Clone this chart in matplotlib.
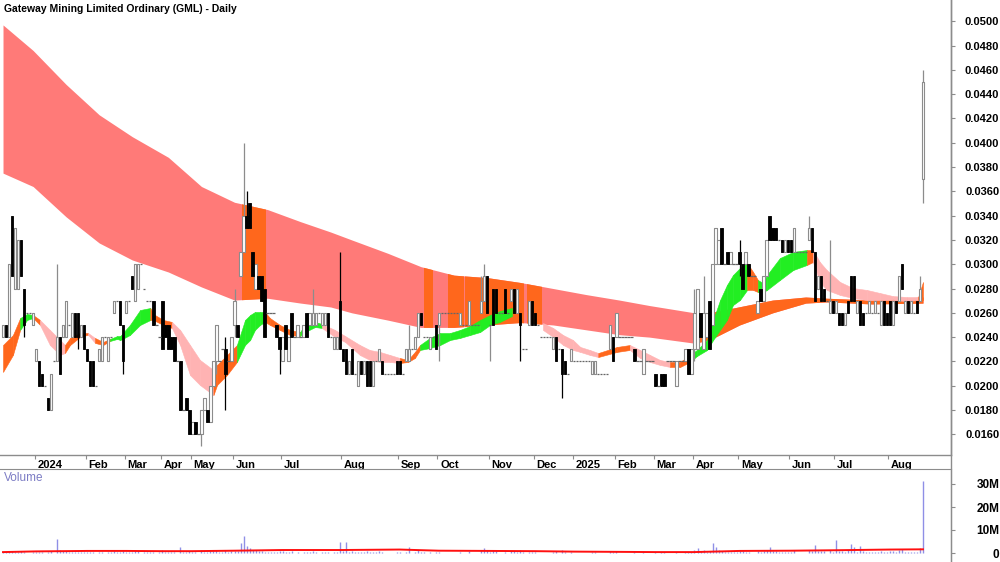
import numpy as np
import matplotlib
matplotlib.use("Agg")
import matplotlib.pyplot as plt
from matplotlib.collections import LineCollection, PolyCollection
from matplotlib.patches import Rectangle
from matplotlib.transforms import ScaledTranslation
from matplotlib import font_manager

plt.rcParams['font.family'] = ['Liberation Sans', 'DejaVu Sans']

TITLE = "Gateway Mining Limited Ordinary (GML) - Daily"

# ---- daily OHLC, in units of 0.001 (one row per trading bar), grouped by month ----
ohlc_dec23 = [(24,25,24,25),(25,25,24,24),(24,30,24,30),(34,34,29,29),(28,33,28,33),(28,32,28,32),
              (32,32,29,29),(28,28,24,25),(26,26,26,26),(26,26,26,26),(25,26,25,26)]
ohlc_jan24 = [(22,23,22,23),(22,22,20,20),(21,21,20,20),(20,20,20,20),(19,19,18,18),(18,21,18,21),
              (22,22,22,22),(22,30,22,24),(24,24,21,21),(24,25,24,25),(24,27,24,27),(25,25,25,25),
              (24,26,24,26),(26,26,24,24),(26,26,23,24),(24,25,24,25),(25,25,23,23)]
ohlc_feb24 = [(23,23,22,22),(22,22,20,20),(22,22,20,20),(20,20,20,20),(22,23,22,23),(22,24,22,24),
              (24,24,24,24),(22,24,22,24),(24,24,24,24),(26,27,26,27),(27,27,27,27),(27,27,25,25),
              (25,25,21,22)]
ohlc_mar24 = [(26,27,26,27),(27,27,27,27),(29,29,28,28),(27,30,27,30),(28,30,28,30),(30,30,30,30),
              (28,28,28,28),(27,27,27,27),(27,27,27,27),(27,27,25,25),(25,25,25,25),(24,24,24,24)]
ohlc_apr24 = [(27,27,23,23),(25,25,24,24),(25,25,23,23),(24,24,23,23),(24,24,22,22),(22,22,22,22),
              (22,22,18,18),(18,18,18,18),(19,19,18,18),(18,18,16,16)]
ohlc_may24 = [(16,17,16,17),(17,17,16,16),(16,16,16,16),(16,18,15,18),(18,19,18,19),(18,18,17,17),
              (17,20,17,20),(20,22,20,22),(22,25,21,25),(22,22,22,22),(23,23,23,23),(23,24,18,21),
              (22,22,22,22),(22,24,22,24)]
ohlc_jun24 = [(25,28,24,27),(25,25,24,24),(29,31,29,31),(31,40,31,34),(34,36,33,33),(35,35,33,33),
              (31,31,29,29),(28,30,28,30),(29,29,28,28),(29,29,27,27),(28,28,24,24),(26,26,26,26),
              (26,26,26,26),(26,26,26,26),(25,25,24,24),(24,24,21,23)]
ohlc_jul24 = [(22,24,22,24),(25,25,23,23),(22,24,22,24),(26,26,24,24),(24,24,24,24),(24,25,24,25),
              (24,24,24,24),(24,25,24,25),(26,26,24,24),(25,26,25,26),(25,28,25,26),(25,26,25,26),
              (26,26,26,26),(25,26,25,26),(25,26,25,26),(26,26,24,24),(24,24,24,24),(23,24,23,24),
              (23,24,23,24),(27,31,23,23)]
ohlc_aug24 = [(23,23,22,22),(23,23,21,21),(21,22,21,22),(23,23,21,21),(21,21,21,21),(20,22,20,22),
              (22,22,21,21),(21,22,21,22),(22,22,20,20),(22,22,20,20),(20,22,20,22),(22,22,22,22),
              (22,23,22,23),(22,22,21,21),(21,21,21,21),(21,21,21,21),(21,21,21,21),(21,21,21,21),
              (22,22,21,21)]
ohlc_sep24 = [(22,22,21,21),(21,21,21,21),(22,23,22,23),(22,25,22,23),(23,23,23,23),(23,24,23,24),
              (24,26,24,26),(26,26,25,25),(24,24,24,24),(24,24,24,24),(23,24,23,24),(24,24,24,24),
              (25,25,23,23)]
ohlc_oct24 = [(25,26,22,26),(26,26,26,26),(26,26,26,26),(26,26,26,26),(26,26,26,26),(26,26,26,26),
              (26,26,26,26),(25,26,25,26),(25,25,25,25),(25,25,25,25),(25,27,25,27),(25,25,25,25),
              (25,25,25,25),(25,25,25,25),(26,29,26,27),(27,30,27,29),(29,29,26,26)]
ohlc_nov24 = [(25,25,22,25),(28,28,25,25),(28,28,26,26),(26,26,26,26),(26,26,26,26),(28,28,26,26),
              (26,26,26,26),(27,28,27,28),(28,28,26,26),(26,28,26,28),(26,26,22,25),(23,23,23,23),
              (23,23,23,23),(25,27,25,27),(27,27,25,25)]
ohlc_dec24 = [(26,26,25,25),(25,25,25,25),(24,24,24,24),(24,24,24,24),(24,24,24,24),(24,24,24,24),
              (23,24,23,24),(24,24,22,22),(23,23,23,23),(23,23,19,21),(22,22,21,21),(21,21,21,21),
              (22,23,22,23)]
ohlc_jan25 = [(22,22,22,22),(22,22,22,22),(22,22,22,22),(22,22,22,22),(22,22,22,22),(22,22,22,22),
              (21,22,21,22),(21,22,21,22),(21,21,21,21),(21,21,21,21),(21,21,21,21),(21,21,21,21),
              (23,25,23,25),(24,24,22,22)]
ohlc_feb25 = [(24,26,24,26),(24,24,24,24),(24,24,24,24),(24,24,24,24),(24,24,24,24),(24,24,24,24),
              (23,23,22,22),(22,22,22,22),(22,22,22,22),(21,23,21,23),(22,22,22,22),(22,22,22,22),
              (22,22,22,22)]
ohlc_mar25 = [(21,21,20,20),(20,20,20,20),(21,21,20,20),(21,21,20,20),(22,22,22,22),(22,22,22,22),
              (22,22,22,22),(20,22,20,22),(22,22,22,22),(22,22,22,22),(22,23,22,23),(23,23,21,21),
              (21,23,21,23)]
ohlc_apr25 = [(23,28,22,26),(23,28,23,28),(26,26,24,24),(23,29,23,26),(24,26,24,26),(27,27,23,23),
              (25,30,25,30),(30,33,30,33),(30,32,30,32),(33,33,30,30),(30,30,30,30),(31,31,30,30),
              (30,31,30,31),(30,30,30,30),(30,30,30,30)]
ohlc_may25 = [(31,32,29,30),(30,30,28,28),(30,31,30,31),(30,30,29,29),(29,29,29,29),(29,29,29,29),
              (26,27,26,27),(28,28,27,27),(27,29,27,29),(29,32,29,32),(34,34,32,32),(33,33,32,32),
              (33,33,32,32),(32,32,32,32),(32,32,31,31),(31,32,31,32),(32,32,31,31)]
ohlc_jun25 = [(32,32,31,31),(31,33,31,33),(31,31,31,31),(31,31,31,31),(31,31,31,31),(31,31,31,31),
              (32,34,32,33),(33,33,31,31),(31,31,27,27),(28,29,28,29),(29,29,27,27),(28,28,27,27),
              (27,27,27,27),(26,32,26,27),(27,27,26,26)]
ohlc_jul25 = [(26,27,26,27),(26,26,25,25),(26,26,25,25),(25,26,25,26),(27,27,26,26),(29,29,27,27),
              (29,29,27,27),(26,27,26,27),(27,27,25,25),(26,26,25,25),(26,26,26,26),(26,27,26,27),
              (26,26,26,26),(26,27,26,27),(26,26,26,26),(25,27,25,27),(27,27,25,25),(26,26,25,25)]
ohlc_aug25 = [(27,27,25,25),(25,27,25,27),(27,27,26,26),(27,29,27,29),(30,30,28,28),(26,27,26,27),
              (27,27,26,26),(26,27,26,27),(26,26,26,26),(27,27,26,26),(27,29,27,28),(37,46,35,45)]

# ---- volume (millions of shares), same bars ----
vol_dec23 = [0.3,0.5,0.8,1.0,0.6,0.5,0.7,0.4,0.2,0.2,0.3]
vol_jan24 = [0.4,0.6,0.5,0.2,0.5,0.9,0.2,6.2,1.5,0.8,0.7,0.4,0.5,0.6,0.5,0.3,0.5]
vol_feb24 = [0.4,0.6,0.5,0.2,0.5,0.5,0.2,0.6,0.3,0.8,0.3,0.6,0.7]
vol_mar24 = [0.5,0.4,0.6,1.0,0.8,0.2,0.4,0.3,0.3,0.6,0.2,0.3]
vol_apr24 = [1.2,0.5,0.5,0.4,0.6,0.2,2.5,0.3,0.6,0.7]
vol_may24 = [0.5,0.5,0.2,1.2,0.6,0.5,0.8,0.9,1.2,0.3,0.3,1.5,0.3,0.8]
vol_jun24 = [1.0,0.8,4.5,7.5,3.0,2.0,1.5,1.2,0.8,1.0,0.5,0.3,0.3,0.3,0.6,1.0]
vol_jul24 = [0.8,0.6,0.5,0.7,0.2,0.5,0.2,0.5,0.6,0.5,0.9,0.4,0.2,0.4,0.3,0.6,0.2,0.4,0.3,5.0]
vol_aug24 = [1.0,4.8,0.6,0.8,0.3,0.6,0.4,0.5,0.7,0.6,0.5,0.6,0.8,0.4,0.2,0.2,0.2,0.2,0.4]
vol_sep24 = [0.5,0.2,0.6,2.5,0.2,0.6,1.2,0.5,0.3,0.2,0.5,0.2,0.6]
vol_oct24 = [0.6,0.2,0.2,0.2,0.2,0.2,0.2,0.5,0.2,0.2,1.0,0.2,0.2,0.2,1.3,2.0,1.2]
vol_nov24 = [0.5,1.2,0.8,0.2,0.2,0.6,0.2,0.8,0.9,0.6,1.5,0.3,0.2,0.6,0.5]
vol_dec24 = [0.4,0.2,0.2,0.2,0.2,0.2,0.4,0.8,0.2,1.5,0.5,0.2,0.4]
vol_jan25 = [0.2,0.2,0.2,0.2,0.2,0.2,0.4,0.4,0.2,0.2,0.2,0.2,1.0,0.6]
vol_feb25 = [0.8,0.2,0.2,0.2,0.2,0.2,0.5,0.2,0.2,0.5,0.2,0.2,0.2]
vol_mar25 = [0.5,0.2,0.4,0.5,0.2,0.2,0.2,0.6,0.2,0.2,0.5,0.5,0.6]
vol_apr25 = [1.5,2.0,0.8,1.5,0.6,1.0,4.5,2.5,1.2,0.8,0.3,0.5,0.6,0.3,0.3]
vol_may25 = [0.8,0.7,0.5,0.6,0.2,0.2,1.0,0.6,0.8,1.5,2.5,1.0,0.8,0.3,0.6,0.5,0.5]
vol_jun25 = [0.5,1.2,0.2,0.2,0.2,0.2,1.5,1.0,3.5,0.8,1.0,0.7,0.2,1.2,0.6]
vol_jul25 = [5.5,0.8,1.0,0.6,1.2,4.0,2.5,0.6,3.0,0.8,0.5,0.6,0.3,0.6,0.3,0.8,0.6,0.5]
vol_aug25 = [0.8,0.7,0.5,1.5,1.8,0.6,0.5,0.6,0.3,0.5,2.0,31.5]

month_labels = [None, '2024', 'Feb', 'Mar', 'Apr', 'May', 'Jun', 'Jul', 'Aug', 'Sep', 'Oct', 'Nov',
                'Dec', '2025', 'Feb', 'Mar', 'Apr', 'May', 'Jun', 'Jul', 'Aug']

# ---- long-term ribbon (read at bar positions, price in 0.001 units) ----
long_pos = [0, 10, 21, 32, 43, 55, 66, 77, 88, 99, 109, 116, 128, 139, 150, 161, 172, 183, 194,
            205, 215, 230, 235, 245, 256, 267, 274, 289, 306]
long_top = [49.7, 47.6, 44.8, 42.3, 40.5, 38.8, 36.4, 35.1, 34.5, 33.5, 32.65, 32.0, 30.9, 29.8,
            29.1, 28.9, 28.5, 28.0, 27.5, 27.05, 26.6, 26.0, 26.0, 26.5, 27.05, 27.3, 27.2, 27.05, 27.3]
long_bot = [37.5, 36.4, 33.9, 31.75, 30.35, 29.36, 28.13, 27.05, 27.2, 26.8, 26.48, 26.0, 25.4, 24.8,
            24.8, 25.0, 25.2, 25.0, 24.6, 24.2, 24.0, 23.5, 23.76, 25.0, 26.0, 26.8, 26.9, 26.73, 26.8]
long_orange_spans = [(79.5, 87.0), (140.0, 142.7), (148.0, 153.0), (153.6, 173.0), (174.3, 179.0),
                     (229.5, 306.5)]

# ---- short-term ribbon: (bar position, top, bottom, colour of following segment) ----
short_ribbon = [
    (0, 23.35, 21.13, 'o'), (3.3, 24.17, 22.53, 'o'), (5.7, 25.57, 24.59, 'g'), (8, 25.90, 25.41, 'g'),
    (10, 25.82, 25.57, 'o'), (12.3, 25.41, 25.00, 'p'), (15.6, 24.59, 23.35, 'p'), (19, 23.76, 22.53, 'p'),
    (20.6, 23.35, 22.69, 'o'), (22.3, 23.93, 23.35, 'o'), (25.6, 24.34, 24.01, 'o'), (28.3, 24.34, 24.20, 'p'),
    (30.6, 23.93, 23.52, 'o'), (33.3, 23.60, 23.35, 'o'), (35.6, 23.85, 23.68, 'g'), (38, 24.09, 23.85, 'g'),
    (39, 24.09, 23.76, 'g'), (42.2, 25.00, 24.17, 'g'), (45.6, 26.23, 25.00, 'g'), (49, 26.40, 25.41, 'o'),
    (50, 25.90, 25.41, 'o'), (53.3, 25.41, 25.00, 'o'), (56.2, 25.25, 24.75, 'p'), (58.9, 24.59, 23.35, 'p'),
    (62.2, 23.35, 20.88, 'p'), (65.5, 22.12, 20.06, 'p'), (70, 21.29, 19.23, 'o'), (71.2, 21.71, 20.06, 'o'),
    (74.5, 22.53, 20.88, 'o'), (77.8, 23.35, 21.95, 'g'), (80.5, 25.41, 23.35, 'g'), (82.2, 25.82, 23.76, 'g'),
    (83.8, 26.07, 24.59, 'g'), (85.5, 26.07, 25.00, 'g'), (87.1, 26.07, 25.25, 'o'), (88.8, 25.57, 25.00, 'o'),
    (92.1, 25.00, 24.59, 'o'), (95.5, 24.59, 24.17, 'o'), (98.8, 24.42, 24.09, 'g'), (100.5, 25.00, 24.42, 'g'),
    (103.8, 25.25, 24.83, 'g'), (106.1, 25.08, 24.75, 'p'), (110.4, 24.59, 24.01, 'p'), (113.8, 24.09, 23.60, 'p'),
    (118.7, 23.35, 22.53, 'p'), (122, 22.94, 22.12, 'p'), (125.4, 22.78, 21.95, 'p'), (128.7, 22.53, 21.95, 'p'),
    (132, 22.28, 21.87, 'o'), (134.7, 22.12, 21.95, 'o'), (137, 22.78, 22.28, 'o'), (138.7, 23.35, 22.94, 'g'),
    (142, 23.93, 23.10, 'g'), (145.4, 24.34, 23.35, 'g'), (148.7, 24.34, 23.76, 'g'), (152, 24.59, 23.93, 'g'),
    (155.3, 24.91, 24.17, 'g'), (158.7, 25.41, 24.42, 'g'), (162, 25.82, 25.00, 'g'), (165.3, 26.15, 25.25, 'g'),
    (169.3, 26.40, 25.74, 'n'), (179.6, 25.16, 24.59, 'p'), (183, 24.75, 24.01, 'p'), (186.3, 24.17, 23.35, 'p'),
    (189.6, 23.76, 22.94, 'p'), (192, 23.19, 22.78, 'p'), (195.2, 22.94, 22.53, 'p'), (198, 22.69, 22.36, 'o'),
    (204.2, 23.19, 22.78, 'o'), (208.5, 23.35, 22.94, 'p'), (211.9, 22.94, 22.28, 'p'), (215.2, 22.53, 21.95, 'p'),
    (218.5, 22.12, 21.71, 'p'), (221.9, 21.95, 21.54, 'o'), (225.2, 21.95, 21.54, 'o'), (228.5, 22.53, 21.95, 'g'),
    (230.8, 22.94, 22.44, 'g'), (234.2, 23.76, 22.94, 'g'), (236.2, 25.41, 23.76, 'g'), (238.5, 27.05, 24.59, 'g'),
    (240.8, 28.29, 25.41, 'g'), (242.8, 29.11, 26.64, 'g'), (245.1, 29.69, 27.05, 'g'), (247.5, 30.10, 27.88, 'o'),
    (249.5, 29.36, 27.88, 'o'), (251.1, 28.70, 27.71, 'g'), (252.8, 28.45, 27.71, 'g'), (254.1, 29.11, 27.88, 'g'),
    (258.4, 30.51, 28.70, 'g'), (262.8, 31.01, 29.52, 'g'), (267.4, 31.17, 29.94, 'o'), (269.4, 31.17, 30.18, 'p'),
    (271.7, 30.18, 28.54, 'p'), (274, 29.52, 27.88, 'p'), (278.4, 28.54, 27.47, 'p'), (282.7, 28.04, 27.22, 'p'),
    (287.4, 27.88, 27.05, 'p'), (291.7, 27.63, 27.05, 'p'), (296, 27.38, 27.05, 'p'), (300.7, 27.30, 26.97, 'p'),
    (304.4, 27.30, 27.05, 'o'), (306, 28.54, 27.05, 'o'),
]

# ---- volume moving average (millions) ----
vol_ma_pos = [0, 11, 28, 41, 53, 63, 77, 93, 113, 132, 145, 162, 177, 190, 204, 217, 230, 245, 262, 277, 295, 306]
vol_ma_val = [0.4, 0.7, 0.9, 0.9, 0.8, 0.8, 1.0, 1.3, 1.3, 1.5, 1.0, 0.9, 0.8, 0.6, 0.5, 0.4, 0.4, 0.9, 1.0,
              1.2, 1.5, 1.6]

# ------------------------------------------------------------------------------
months_ohlc = [ohlc_dec23, ohlc_jan24, ohlc_feb24, ohlc_mar24, ohlc_apr24, ohlc_may24, ohlc_jun24,
               ohlc_jul24, ohlc_aug24, ohlc_sep24, ohlc_oct24, ohlc_nov24, ohlc_dec24, ohlc_jan25,
               ohlc_feb25, ohlc_mar25, ohlc_apr25, ohlc_may25, ohlc_jun25, ohlc_jul25, ohlc_aug25]
months_vol = [vol_dec23, vol_jan24, vol_feb24, vol_mar24, vol_apr24, vol_may24, vol_jun24, vol_jul24,
              vol_aug24, vol_sep24, vol_oct24, vol_nov24, vol_dec24, vol_jan25, vol_feb25, vol_mar25,
              vol_apr25, vol_may25, vol_jun25, vol_jul25, vol_aug25]
for a, b in zip(months_ohlc, months_vol):
    assert len(a) == len(b), (len(a), len(b))

bars = np.array([b for m in months_ohlc for b in m], dtype=float) / 1000.0
vols = np.array([v for m in months_vol for v in m]) * 1e6
n = len(bars)
xs = np.arange(n)
month_starts = np.cumsum([0] + [len(m) for m in months_ohlc])[:-1]

W, H = 1000, 562
fig = plt.figure(figsize=(W / 100, H / 100), dpi=100)
AX_R = 951 / W
axp = fig.add_axes([0, 1 - 455 / H, AX_R, 455 / H])
axv = fig.add_axes([0, 0, AX_R, (H - 469) / H])

SALMON = '#FF7A78'
ORANGE = '#FF671C'
GREEN = '#22EE22'
PINK = '#FFB3B3'
GRAY = '#8C8C8C'
cmap = {'o': ORANGE, 'g': GREEN, 'p': PINK}

# long ribbon
lp = np.array(long_pos, float)
lt = np.array(long_top) / 1000.0
lb = np.array(long_bot) / 1000.0
axp.fill_between(lp, lb, lt, color=SALMON, lw=0, zorder=1)
for a, b in long_orange_spans:
    poly = axp.fill_between(lp, lb, lt, color=ORANGE, lw=0, zorder=1.2)
    clip = Rectangle((a, 0), b - a, 1, transform=axp.transData)
    poly.set_clip_path(clip)

# short ribbon
for r0, r1 in zip(short_ribbon[:-1], short_ribbon[1:]):
    c = r0[3]
    if c == 'n':
        continue
    axp.fill_between([r0[0], r1[0]], [r0[2] / 1000, r1[2] / 1000], [r0[1] / 1000, r1[1] / 1000],
                     color=cmap[c], lw=0.4, edgecolor=cmap[c], zorder=2)

# candles
w = 0.78
up_polys, dn_polys, wicks_up, wicks_dn, dashes = [], [], [], [], []
for i, (o, h, l, c) in enumerate(bars):
    if c > o + 1e-9:
        up_polys.append([(i - w / 2, o), (i + w / 2, o), (i + w / 2, c), (i - w / 2, c)])
        if h > l:
            wicks_up.append([(i, l), (i, h)])
    elif c < o - 1e-9:
        dn_polys.append([(i - w / 2, o), (i + w / 2, o), (i + w / 2, c), (i - w / 2, c)])
        if h > l:
            wicks_dn.append([(i, l), (i, h)])
    else:
        dashes.append([(i - w / 2, c), (i + w / 2, c)])
        if h > l:
            wicks_up.append([(i, l), (i, h)])
axp.add_collection(LineCollection(wicks_up, colors=GRAY, linewidths=0.9, zorder=3))
axp.add_collection(LineCollection(wicks_dn, colors='black', linewidths=0.9, zorder=3))
axp.add_collection(PolyCollection(up_polys, facecolors='white', edgecolors=GRAY, linewidths=0.8, zorder=4))
axp.add_collection(PolyCollection(dn_polys, facecolors='black', edgecolors='black', linewidths=0.6, zorder=4))
axp.add_collection(LineCollection(dashes, colors='#666666', linewidths=0.9, zorder=4))

# price axes
x_left = -1.0
x_right = (951 - 3) / 3.0065
axp.set_xlim(x_left, x_right)
axp.set_ylim(14.295 / 1000, 51.753 / 1000)
for s in ['top', 'left']:
    axp.spines[s].set_visible(False)
for s in ['right', 'bottom']:
    axp.spines[s].set_color(GRAY)
    axp.spines[s].set_linewidth(1)
axp.yaxis.tick_right()
yt = np.arange(16, 51, 2) / 1000.0
axp.set_yticks(yt)
axp.set_yticklabels([f'{v:.4f}' for v in yt])
pad_pt = (998 - 951 - 3) * 0.72
axp.tick_params(axis='y', direction='out', length=3, color=GRAY, pad=pad_pt, labelsize=8)
for t in axp.get_yticklabels():
    t.set_horizontalalignment('right')
    t.set_fontweight('bold')

tick_pos = [s - 0.5 for s, lab in zip(month_starts, month_labels) if lab]
tick_lab = [lab for lab in month_labels if lab]
axp.set_xticks(tick_pos)
axp.set_xticklabels(tick_lab)
axp.tick_params(axis='x', direction='out', length=3, color=GRAY, pad=0.5, labelsize=8)
off = ScaledTranslation(2 / 72, 0, fig.dpi_scale_trans)
for t in axp.get_xticklabels():
    t.set_horizontalalignment('left')
    t.set_fontweight('bold')
    t.set_transform(t.get_transform() + off)

# volume
axv.vlines(xs, 0, vols, color='#8F8FE6', lw=1.0, zorder=2)
axv.plot(vol_ma_pos, np.array(vol_ma_val) * 1e6, color='#FF1010', lw=1.4, zorder=3)
axv.set_xlim(x_left, x_right)
zero_px, px_per_10m = 553.0, 23.0
vb = -(H - zero_px) / px_per_10m * 10e6
vt = (zero_px - 469) / px_per_10m * 10e6
axv.set_ylim(vb, vt)
for s in ['left', 'bottom']:
    axv.spines[s].set_visible(False)
for s in ['right', 'top']:
    axv.spines[s].set_color(GRAY)
axv.set_xticks([])
axv.yaxis.tick_right()
axv.set_yticks([0, 10e6, 20e6, 30e6])
axv.set_yticklabels(['0', '10M', '20M', '30M'])
axv.tick_params(axis='y', direction='out', length=3, color=GRAY, pad=pad_pt, labelsize=8.5)
for t in axv.get_yticklabels():
    t.set_horizontalalignment('right')
    t.set_fontweight('bold')
axv.text(4 / 951, 1 - 9 / 93, 'Volume', transform=axv.transAxes, fontsize=8.5, color='#7C7CC4',
         va='center', ha='left')

# vertical separator spanning the date strip
fig.add_artist(plt.Line2D([AX_R, AX_R], [0, 1], transform=fig.transFigure, color=GRAY, lw=1))

# title
try:
    font_manager.findfont(font_manager.FontProperties(family='Liberation Sans Narrow'),
                          fallback_to_default=False)
    tfam = ['Liberation Sans Narrow', 'Liberation Sans', 'DejaVu Sans']
    tsize = 8.8
except Exception:
    tfam = ['Liberation Sans', 'DejaVu Sans']
    tsize = 7.5
fig.text(4 / W, 1 - 9 / H, TITLE, fontsize=tsize, fontweight='bold', family=tfam, va='center', ha='left')

fig.savefig('out.png', dpi=100)
